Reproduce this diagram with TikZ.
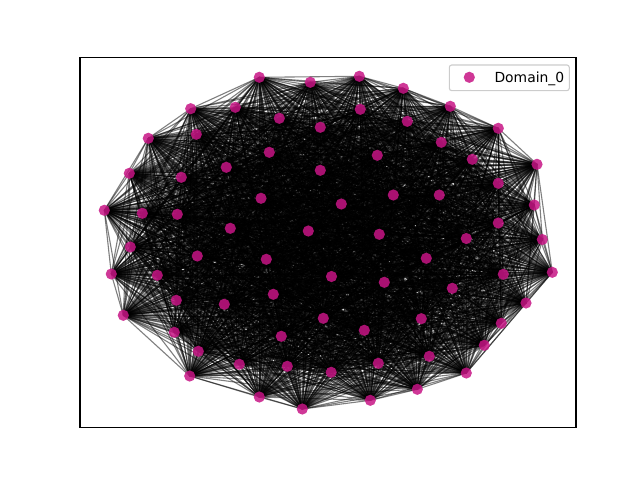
\documentclass[tikz,border=0pt]{standalone}
\usepackage{fontspec}
\setmainfont{DejaVu Sans}
\definecolor{domcol}{RGB}{199,21,133}
\tikzset{
  edge/.style={black,line width=1.1pt},
  vertex/.style={domcol,fill opacity=0.85},
}

\begin{document}
\begin{tikzpicture}[x=1pt,y=-1pt]
    \useasboundingbox (0,0) rectangle (640,480);
    \foreach \i/\x/\y in {1/259.3/77.3,2/310.3/82.3,3/190.7/108.7,4/235.3/107.3,5/279.3/118.3,
      6/320.3/127.3,7/196.3/134.3,8/148.3/138.3,9/269.3/152.3,10/320.3/170.3,
      11/129.3/173.3,12/226.3/167.3,13/181.3/177.3,14/261/198.3,15/104.3/210.3,
      16/142.3/213.3,17/177.3/214.3,18/230.3/228.3,19/308.3/231,20/359.3/76.3,
      21/403.3/88.3,22/360.3/109.3,23/450.3/106.3,24/407.3/121.3,25/498.3/128.3,
      26/441.3/142.3,27/377.3/155.3,28/472.3/159.3,29/537/164.3,30/498.3/183.3,
      31/393.3/195,32/439.3/195,33/341.3/204,34/534.3/205,35/498.3/223,
      36/379.3/234.3,37/466.3/238.5,38/542.3/239.5,39/130.3/247,40/197.3/256,
      41/266.3/259.3,42/111.3/274,43/157.3/275.3,44/331.5/276.5,45/273.3/294.3,
      46/176.3/300.3,47/224.3/304.3,48/123.3/315.3,49/323.3/318.3,50/281.3/336.3,
      51/174.3/332.3,52/198.3/351.3,53/239.3/364.3,54/287.3/366.3,55/189.7/376,
      56/331.2/372.3,57/259.3/397,58/302.3/409,59/552.3/272.3,60/426.3/258.3,
      61/503.3/274.3,62/384.3/282.3,63/452.3/288.3,64/526/303,65/421.3/318.7,
      66/501.3/323.3,67/364.3/330.3,68/484.3/345.3,69/429.3/356.3,70/378.3/363.3,
      71/466.3/373,72/417.3/389.3,73/370.3/400.3}
      \coordinate (n\i) at (\x,\y);
    \begin{scope}[draw opacity=0.5]
    \foreach \i in {1,...,72} {
      \pgfmathtruncatemacro\nxt{\i+1}
      \foreach \j in {\nxt,...,73}
        \draw[edge] (n\i) -- (n\j);
    }
    \end{scope}
    \foreach \i in {1,...,73}
      \fill[vertex] (n\i) circle (5.6pt);
    % axes frame
    \draw[line width=1.1pt] (80,57.6) rectangle (576,427.2);
    % legend
    \node[draw={rgb,255:red,204;green,204;blue,204},fill=white,fill opacity=0.8,
      text opacity=1,rounded corners=2.5pt,line width=1.1pt,
      minimum width=120pt,minimum height=25.7pt,inner sep=0pt] (legend) at (509.3,77.8) {};
    \fill[vertex] (469.3,77.3) coordinate (mark) circle (5.6pt);
    \node[anchor=base west,inner sep=0pt,font=\fontsize{13.9}{16}\selectfont] (lab) at (494.3,82.3) {Domain\_0};
\end{tikzpicture}
\end{document}
